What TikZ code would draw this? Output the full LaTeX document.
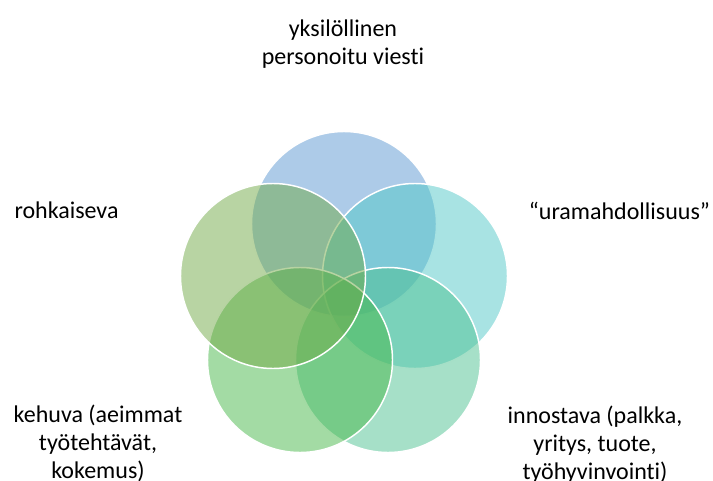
\documentclass[tikz,border=0pt]{standalone}
\usepackage{fontspec}
\setmainfont[Ligatures={NoCommon}]{Carlito}
\usepackage{xcolor}
\definecolor{ringBlue}{RGB}{91,151,209}
\definecolor{ringTeal}{RGB}{81,199,199}
\definecolor{ringMint}{RGB}{77,193,145}
\definecolor{ringGreen}{RGB}{71,183,73}
\definecolor{ringOlive}{RGB}{113,169,71}

\begin{document}
\begin{tikzpicture}[x=0.75pt, y=-0.75pt, every node/.style={font=\fontsize{18}{21}\selectfont, align=center}, ring/.style={circle, draw=white, line width=1.1pt, fill opacity=0.5, draw opacity=1, minimum size=138.75pt, inner sep=0pt}]
  \useasboundingbox (0,0) rectangle (713,481);
  % circles
  \node[ring, fill=ringBlue] (personal) at (344,224) {};
  \node[ring, fill=ringTeal] (career) at (415,276) {};
  \node[ring, fill=ringMint] (inspire) at (388,360) {};
  \node[ring, fill=ringGreen] (praise) at (300,360) {};
  \node[ring, fill=ringOlive] (courage) at (273,276) {};
  % labels (base = last line)
  \node[anchor=base] (personalText) at (343,65) {yksilöllinen\\personoitu viesti};
  \node[anchor=base] (courageText) at (66.5,218) {rohkaiseva};
  \node[anchor=base] (careerText) at (619.5,219) {“uramahdollisuus”};
  \node[anchor=base] (praiseText) at (98,478) {kehuva (aeimmat\\työtehtävät,\\kokemus)};
  \node[anchor=base] (inspireText) at (595,479) {innostava (palkka,\\yritys, tuote,\\työhyvinvointi)};
\end{tikzpicture}
\end{document}
